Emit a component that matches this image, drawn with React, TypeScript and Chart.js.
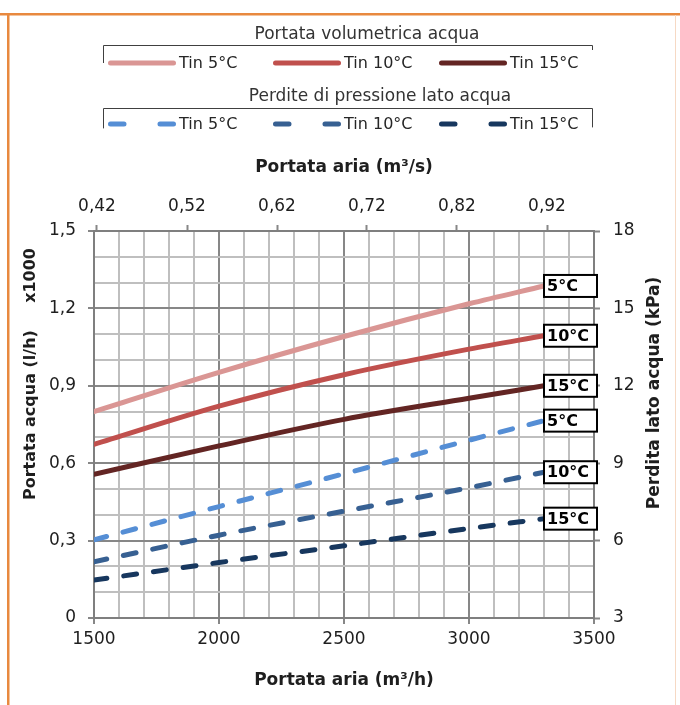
import React, { useEffect, useRef } from 'react';
import { Chart, registerables } from 'chart.js';

Chart.register(...registerables);

// ---- data ----
const airFlowM3h = [1500, 2000, 2500, 3000, 3300];
const waterFlow5 = [0.80, 0.952, 1.091, 1.218, 1.287];
const waterFlow10 = [0.673, 0.821, 0.943, 1.042, 1.094];
const waterFlow15 = [0.557, 0.667, 0.77, 0.852, 0.90];
const pressureDrop5 = [6.03, 7.32, 8.59, 9.89, 10.65];
const pressureDrop10 = [5.18, 6.21, 7.14, 8.05, 8.65];
const pressureDrop15 = [4.47, 5.15, 5.8, 6.47, 6.85];
const tinLabels = ['5°C', '10°C', '15°C'];
const topAxisTicks = [0.42, 0.52, 0.62, 0.72, 0.82, 0.92];
const legendTitles = ['Portata volumetrica acqua', 'Perdite di pressione lato acqua'];

// ---- styles ----
const FONT = '"DejaVu Sans", sans-serif';
const TEXT = '#1e1e1e';
const MAJOR = '#878787';
const MINOR = '#bfbfbf';
const AXIS = '#7f7f7f';
const SOLID_COLORS = ['#da9694', '#c0504d', '#632523'];
const DASH_COLORS = ['#558ed5', '#376092', '#17375e'];
const ORANGE = '#e8893f';

const pts = (ys: number[]) => airFlowM3h.map((x, i) => ({ x, y: ys[i] }));

const legendLayout = {
  entryX: [108, 273, 439],
  bracketX: [103, 592],
  groups: [
    { titleX: 367, titleY: 35, bracketY: 45, lTick: 63, rTick: 50, rowY: 63 },
    { titleX: 380, titleY: 97, bracketY: 108, lTick: 128, rTick: 127, rowY: 124 },
  ],
};

const framePlugin = {
  id: 'frameAndLegend',
  beforeDraw(chart: any) {
    const ctx = chart.ctx;
    ctx.save();
    // orange frame
    ctx.fillStyle = ORANGE;
    ctx.fillRect(0, 13, 680, 2.5);
    ctx.fillRect(7, 13, 2.5, 705);
    ctx.fillStyle = '#f6d9c4';
    ctx.fillRect(675, 15, 1, 690);

    // legend
    const ds = chart.data.datasets;
    legendLayout.groups.forEach((g, gi) => {
      ctx.fillStyle = '#333';
      ctx.font = `17px ${FONT}`;
      ctx.textAlign = 'center';
      ctx.textBaseline = 'middle';
      ctx.fillText(legendTitles[gi], g.titleX, g.titleY);
      ctx.strokeStyle = '#404040';
      ctx.lineWidth = 1;
      ctx.beginPath();
      ctx.moveTo(legendLayout.bracketX[0] + 0.5, g.lTick);
      ctx.lineTo(legendLayout.bracketX[0] + 0.5, g.bracketY + 0.5);
      ctx.lineTo(legendLayout.bracketX[1] + 0.5, g.bracketY + 0.5);
      ctx.lineTo(legendLayout.bracketX[1] + 0.5, g.rTick);
      ctx.stroke();
      for (let k = 0; k < 3; k++) {
        const d = ds[gi * 3 + k];
        const x = legendLayout.entryX[k];
        ctx.strokeStyle = d.borderColor;
        ctx.lineWidth = 5;
        ctx.lineCap = 'round';
        ctx.beginPath();
        if (gi === 0) {
          ctx.moveTo(x + 2.5, g.rowY);
          ctx.lineTo(x + 65.5, g.rowY);
        } else {
          ctx.moveTo(x + 2.5, g.rowY);
          ctx.lineTo(x + 16, g.rowY);
          ctx.moveTo(x + 52, g.rowY);
          ctx.lineTo(x + 65.5, g.rowY);
        }
        ctx.stroke();
        ctx.fillStyle = '#262626';
        ctx.font = `16px ${FONT}`;
        ctx.textAlign = 'left';
        ctx.fillText(d.label, x + 71, g.rowY + 1);
      }
    });
    ctx.restore();
  },
  afterDatasetsDraw(chart: any) {
    const ctx = chart.ctx;
    ctx.save();
    chart.data.datasets.forEach((d: any, i: number) => {
      const meta = chart.getDatasetMeta(i);
      const pt = meta.data[meta.data.length - 1];
      if (!pt) return;
      const w = 53, h = 22;
      const x = pt.x, y = pt.y;
      ctx.fillStyle = '#fff';
      ctx.fillRect(x, y - h / 2, w, h);
      ctx.strokeStyle = '#000';
      ctx.lineWidth = 2;
      ctx.strokeRect(x, y - h / 2, w, h);
      ctx.fillStyle = '#000';
      ctx.font = `bold 16px ${FONT}`;
      ctx.textAlign = 'left';
      ctx.textBaseline = 'middle';
      ctx.fillText(d.endLabel, x + 3, y + 1);
    });
    ctx.restore();
  },
  afterDraw(chart: any) {
    const ctx = chart.ctx;
    ctx.save();
    ctx.fillStyle = TEXT;
    ctx.font = `bold 16px ${FONT}`;
    ctx.textBaseline = 'middle';
    // left title
    ctx.translate(31, 500);
    ctx.rotate(-Math.PI / 2);
    ctx.textAlign = 'left';
    ctx.fillText('Portata acqua (l/h)', 0, 0);
    ctx.textAlign = 'right';
    ctx.fillText('x1000', 252, 0);
    ctx.restore();
    ctx.save();
    ctx.fillStyle = TEXT;
    ctx.font = `bold 17px ${FONT}`;
    ctx.textBaseline = 'middle';
    ctx.textAlign = 'center';
    ctx.translate(655, 393);
    ctx.rotate(-Math.PI / 2);
    ctx.fillText('Perdita lato acqua (kPa)', 0, 0);
    ctx.restore();
  },
};

const tickFont = { family: FONT, size: 17 };
const titleFont = { family: FONT, size: 17, weight: 'bold' as const };

export default function App() {
  const ref = useRef<HTMLCanvasElement | null>(null);
  useEffect(() => {
    if (!ref.current) return;
    const datasets: any[] = [];
    [waterFlow5, waterFlow10, waterFlow15].forEach((ys, i) =>
      datasets.push({
        label: `Tin ${tinLabels[i]}`,
        endLabel: tinLabels[i],
        data: pts(ys),
        borderColor: SOLID_COLORS[i],
        xAxisID: 'x',
        yAxisID: 'y',
      })
    );
    [pressureDrop5, pressureDrop10, pressureDrop15].forEach((ys, i) =>
      datasets.push({
        label: `Tin ${tinLabels[i]}`,
        endLabel: tinLabels[i],
        data: pts(ys),
        borderColor: DASH_COLORS[i],
        borderDash: [13, 17],
        xAxisID: 'x',
        yAxisID: 'y2',
      })
    );
    const chart = new Chart(ref.current, {
      type: 'line',
      data: { datasets },
      plugins: [framePlugin],
      options: {
        responsive: false,
        animation: false,
        events: [],
        layout: { padding: { top: 140, left: 0, right: 0, bottom: 0 } },
        elements: {
          point: { radius: 0 },
          line: { borderWidth: 5, borderCapStyle: 'round', cubicInterpolationMode: 'monotone', fill: false },
        },
        plugins: { legend: { display: false }, tooltip: { enabled: false } },
        scales: {
          x: {
            type: 'linear',
            position: 'bottom',
            min: 1500,
            max: 3500,
            ticks: {
              stepSize: 100,
              maxTicksLimit: 100,
              autoSkip: false,
              maxRotation: 0,
              padding: 5,
              color: TEXT,
              font: tickFont,
              callback: (v: any) => (Math.round(v) % 500 === 0 ? String(Math.round(v)) : ''),
            },
            grid: {
              color: (c: any) => (Math.round(c.tick.value) % 500 === 0 ? MAJOR : MINOR),
              lineWidth: 2,
              tickLength: 6,
              tickColor: (c: any) => (Math.round(c.tick.value) % 500 === 0 ? MAJOR : 'rgba(0,0,0,0)'),
              tickWidth: 2,
            },
            border: { color: AXIS, width: 2 },
            title: { display: true, text: 'Portata aria (m³/h)', color: TEXT, font: titleFont, padding: { top: 0, bottom: 14 } },
            afterFit: (s: any) => { s.height = 87; },
          },
          x2: {
            type: 'linear',
            position: 'top',
            min: 1500 / 3600,
            max: 3500 / 3600,
            afterBuildTicks: (s: any) => { s.ticks = topAxisTicks.map((value) => ({ value })); },
            ticks: {
              autoSkip: false,
              maxRotation: 0,
              padding: 8,
              color: TEXT,
              font: tickFont,
              callback: (v: any) => Number(v).toFixed(2).replace('.', ','),
            },
            grid: { drawOnChartArea: false, tickLength: 6, tickColor: MAJOR, tickWidth: 2 },
            border: { color: AXIS, width: 2 },
            title: { display: true, text: 'Portata aria (m³/s)', color: TEXT, font: titleFont, padding: { top: 17, bottom: 0 } },
            afterFit: (s: any) => { s.height = 91; },
          },
          y: {
            type: 'linear',
            position: 'left',
            min: 0,
            max: 1.5,
            ticks: {
              stepSize: 0.1,
              maxTicksLimit: 100,
              autoSkip: false,
              padding: 12,
              color: TEXT,
              font: tickFont,
              callback: (v: any) => {
                const n = Math.round(Number(v) * 10);
                if (n % 3 !== 0) return '';
                return n === 0 ? '0' : (n / 10).toFixed(1).replace('.', ',');
              },
            },
            grid: {
              color: (c: any) => (Math.round(c.tick.value * 10) % 3 === 0 ? MAJOR : MINOR),
              lineWidth: 2,
              tickLength: 6,
              tickColor: (c: any) => (Math.round(c.tick.value * 10) % 3 === 0 ? MAJOR : 'rgba(0,0,0,0)'),
              tickWidth: 2,
            },
            border: { color: AXIS, width: 2 },
            afterFit: (s: any) => { s.width = 94; },
          },
          y2: {
            type: 'linear',
            position: 'right',
            min: 3,
            max: 18,
            ticks: {
              stepSize: 3,
              autoSkip: false,
              padding: 13,
              color: TEXT,
              font: tickFont,
              callback: (v: any) => String(v),
            },
            grid: { drawOnChartArea: false, tickLength: 6, tickColor: MAJOR, tickWidth: 2 },
            border: { color: AXIS, width: 2 },
            afterFit: (s: any) => { s.width = 86; },
          },
        },
      } as any,
    });
    return () => chart.destroy();
  }, []);
  return (
    <div style={{ position: 'absolute', left: 0, top: 0, width: 680, height: 705, background: '#fff' }}>
      <canvas ref={ref} width={680} height={705} style={{ display: 'block', width: 680, height: 705 }} />
    </div>
  );
}
